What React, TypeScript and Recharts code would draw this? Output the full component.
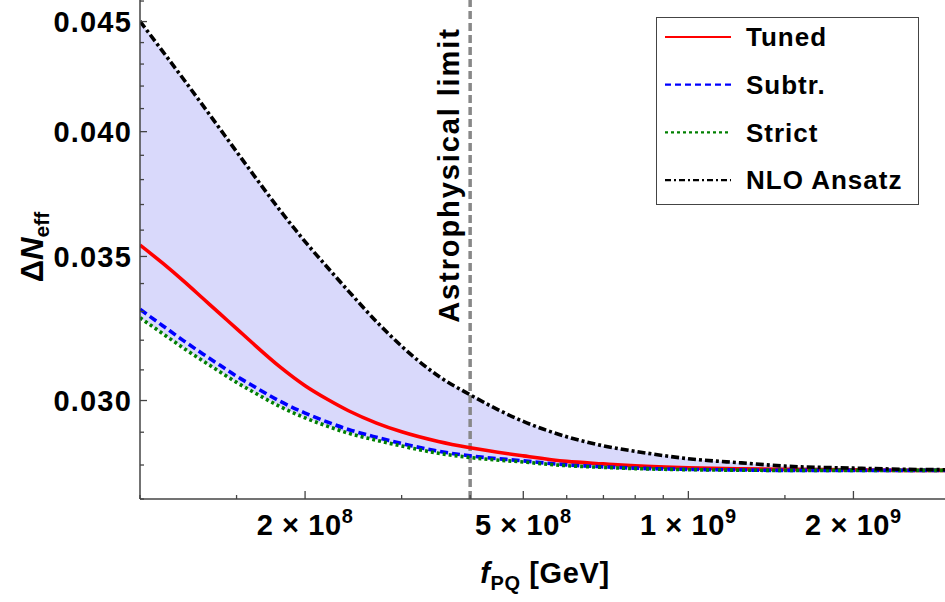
import { ComposedChart, Line, Area, XAxis, YAxis, ReferenceLine, Legend } from "recharts";

// f_PQ in GeV (log axis)
const fpq = [
    1e8, 1.1e8, 1.2e8, 1.3e8, 1.4e8, 1.5e8, 1.6e8, 1.8e8, 2e8, 2.2e8, 2.4e8, 2.7e8, 3e8, 3.5e8, 4e8,
    5e8, 6e8, 7e8, 8e8, 1e9, 1.25e9, 1.5e9, 2e9, 2.5e9, 3e9,
];

// Delta N_eff per scheme
const tuned = [
    0.035429, 0.034748, 0.034096, 0.033477, 0.032912, 0.0324, 0.031921, 0.0311, 0.03048, 0.030032, 0.029674, 0.029285, 0.029013, 0.028714, 0.028521,
    0.028275, 0.028109, 0.028034, 0.027974, 0.027914, 0.027884, 0.027869, 0.027854, 0.027839, 0.027839,
];
const subtr = [
    0.033075, 0.032501, 0.031986, 0.031542, 0.03115, 0.030791, 0.030493, 0.029977, 0.029601, 0.029313, 0.029085, 0.028843, 0.028652, 0.028416, 0.028275,
    0.028124, 0.028004, 0.027944, 0.027906, 0.027869, 0.027851, 0.027839, 0.027839, 0.027839, 0.027839,
];
const strict = [
    0.032778, 0.032227, 0.031733, 0.031308, 0.030931, 0.030588, 0.030301, 0.029808, 0.029449, 0.029182, 0.028969, 0.028751, 0.028575, 0.028355, 0.028225,
    0.028089, 0.02798, 0.027929, 0.027893, 0.02786, 0.027845, 0.027839, 0.027839, 0.027839, 0.027839,
];
const nlo = [
    0.045018, 0.043587, 0.042317, 0.041162, 0.040109, 0.039153, 0.038282, 0.036773, 0.03556, 0.034579, 0.033726, 0.032641, 0.031795, 0.030798, 0.030184,
    0.029336, 0.028859, 0.028579, 0.028413, 0.028189, 0.028063, 0.027968, 0.027906, 0.027872, 0.027858,
];

const astroLimit = 4e8;

// ticks
const xMajor = [2e8, 5e8, 1e9, 2e9];
const xMantissa = ["2", "5", "1", "2"];
const xExponent = ["8", "8", "9", "9"];
const xTicks = [1e8, 1.5e8, 2e8, 3e8, 4e8, 5e8, 6e8, 7e8, 8e8, 9e8, 1e9, 1.5e9, 2e9, 3e9];

const yMajor = [0.03, 0.035, 0.04, 0.045];
const yLabels = ["0.030", "0.035", "0.040", "0.045"];
const yTicks = [0.027, 0.028, 0.029, 0.03, 0.031, 0.032, 0.033, 0.034, 0.035, 0.036, 0.037, 0.038, 0.039, 0.04, 0.041, 0.042, 0.043, 0.044, 0.045, 0.046];

const legendNames = ["Tuned", "Subtr.", "Strict", "NLO Ansatz"];
const legendColors = ["#ff0000", "#0000ff", "#008000", "#000000"];
const legendDash = ["", "6 4", "3 3", "6 3 2 3"];

const rows = fpq.map((x, i) => ({
    x,
    tuned: tuned[i],
    subtr: subtr[i],
    strict: strict[i],
    nlo: nlo[i],
    band: [strict[i], nlo[i]],
}));

const FONT = "'Liberation Sans', Arial, Helvetica, sans-serif";
const AXIS = "#444";

const majorIndex = (list: number[], v: number) => list.findIndex((m) => Math.abs(m - v) / m < 1e-6);

function XTick(props: any) {
    const { x, y, payload } = props;
    const k = majorIndex(xMajor, payload.value);
    return (
        <g>
            <line x1={x} y1={y} x2={x} y2={y - (k >= 0 ? 8 : 4)} stroke={AXIS} strokeWidth={1.3} />
            {k >= 0 && (
                <text x={x} y={y + 36} textAnchor="middle" fontSize={29} fontWeight="bold" fontFamily={FONT} fill="#000" letterSpacing={0.6}>
                    {xMantissa[k]} × 10<tspan dy={-12} fontSize={20}>{xExponent[k]}</tspan>
                </text>
            )}
        </g>
    );
}

function TopTick(props: any) {
    const { x, y, payload } = props;
    const k = majorIndex(xMajor, payload.value);
    return <line x1={x} y1={y} x2={x} y2={y + (k >= 0 ? 8 : 4)} stroke={AXIS} strokeWidth={1.3} />;
}

function YTick(props: any) {
    const { x, y, payload } = props;
    const k = majorIndex(yMajor, payload.value);
    return (
        <g>
            <line x1={x} y1={y} x2={x + (k >= 0 ? 7 : 4)} y2={y} stroke={AXIS} strokeWidth={1.3} />
            {k >= 0 && (
                <text x={x - 8} y={y} dy="0.36em" textAnchor="end" fontSize={29} fontWeight="bold" fontFamily={FONT} fill="#000" letterSpacing={1.2}>
                    {yLabels[k]}
                </text>
            )}
        </g>
    );
}

function RightTick(props: any) {
    const { x, y, payload } = props;
    const k = majorIndex(yMajor, payload.value);
    return <line x1={x} y1={y} x2={x - (k >= 0 ? 7 : 4)} y2={y} stroke={AXIS} strokeWidth={1.3} />;
}

function LegendBox() {
    return (
        <div style={{ width: 263, height: 188, border: "1.5px solid #444", background: "#fff", boxSizing: "border-box" }}>
            <svg width={260} height={185}>
                {legendNames.map((name, i) => {
                    const cy = 19 + i * 47.7;
                    return (
                        <g key={name}>
                            <line x1={8} x2={74} y1={cy} y2={cy} stroke={legendColors[i]} strokeWidth={2.2} strokeDasharray={legendDash[i]} />
                            <text x={89} y={cy} dy="0.36em" fontSize={26} fontWeight="bold" fontFamily={FONT} fill="#000" letterSpacing={1}>
                                {name}
                            </text>
                        </g>
                    );
                })}
            </svg>
        </div>
    );
}

export default function App() {
    return (
        <div style={{ position: "fixed", left: 0, top: 0, width: 945, height: 602, overflow: "hidden", background: "#fff" }}>
            <div style={{ position: "absolute", left: 0, top: -1 }}>
                <ComposedChart width={960} height={603} data={rows} margin={{ top: 0, right: 10, bottom: 0, left: 0 }}>
                    <XAxis
                        dataKey="x"
                        type="number"
                        scale="log"
                        domain={[1e8, 3e9]}
                        allowDataOverflow
                        ticks={xTicks}
                        interval={0}
                        tickLine={false}
                        tickSize={0}
                        tickMargin={0}
                        height={103}
                        tick={XTick}
                        axisLine={{ stroke: AXIS, strokeWidth: 1.5 }}
                        label={(p: any) => {
                            const vb = p.viewBox;
                            return (
                                <text x={vb.x + vb.width / 2} y={vb.y + 84} textAnchor="middle" fontSize={29} fontWeight="bold" fontFamily={FONT} fill="#000" letterSpacing={0.6}>
                                    <tspan fontStyle="italic">f</tspan>
                                    <tspan fontSize={20} dy={7}>PQ</tspan>
                                    <tspan dy={-7}> [GeV]</tspan>
                                </text>
                            );
                        }}
                    />
                    <XAxis
                        xAxisId="top"
                        orientation="top"
                        type="number"
                        scale="log"
                        domain={[1e8, 3e9]}
                        allowDataOverflow
                        ticks={xTicks}
                        interval={0}
                        tickLine={false}
                        tickSize={0}
                        tickMargin={0}
                        height={0}
                        tick={TopTick}
                        axisLine={{ stroke: AXIS, strokeWidth: 1.5 }}
                    />
                    <YAxis
                        type="number"
                        scale="log"
                        domain={[0.027, 0.0461]}
                        allowDataOverflow
                        ticks={yTicks}
                        interval={0}
                        tickLine={false}
                        tickSize={0}
                        tickMargin={0}
                        width={140}
                        tick={YTick}
                        axisLine={{ stroke: AXIS, strokeWidth: 1.5 }}
                        label={(p: any) => {
                            const vb = p.viewBox;
                            const cx = 43;
                            const cy = vb.y + 248;
                            return (
                                <text x={cx} y={cy} transform={`rotate(-90, ${cx}, ${cy})`} textAnchor="middle" fontSize={31} fontWeight="bold" fontFamily={FONT} fill="#000">
                                    Δ<tspan fontStyle="italic">N</tspan>
                                    <tspan fontSize={21} dy={6}>eff</tspan>
                                </text>
                            );
                        }}
                    />
                    <YAxis
                        yAxisId="right"
                        orientation="right"
                        type="number"
                        scale="log"
                        domain={[0.027, 0.0461]}
                        allowDataOverflow
                        ticks={yTicks}
                        interval={0}
                        tickLine={false}
                        tickSize={0}
                        tickMargin={0}
                        width={0}
                        tick={RightTick}
                        axisLine={{ stroke: AXIS, strokeWidth: 1.5 }}
                    />
                    <Area dataKey="band" type="monotone" fill="#d9d9fb" fillOpacity={1} stroke="none" isAnimationActive={false} />
                    <ReferenceLine
                        x={astroLimit}
                        stroke="#888"
                        strokeWidth={3.5}
                        strokeDasharray="8 4"
                        label={(p: any) => {
                            const vb = p.viewBox;
                            const lx = vb.x - 11;
                            const ly = 176;
                            return (
                                <text x={lx} y={ly} transform={`rotate(-90, ${lx}, ${ly})`} textAnchor="middle" fontSize={29} fontWeight="bold" fontFamily={FONT} fill="#000" letterSpacing={1.9}>
                                    Astrophysical limit
                                </text>
                            );
                        }}
                    />
                    <Line dataKey="tuned" type="monotone" stroke="#ff0000" strokeWidth={3.6} dot={false} isAnimationActive={false} />
                    <Line dataKey="subtr" type="monotone" stroke="#0000ff" strokeWidth={3.6} strokeDasharray="8 4" dot={false} isAnimationActive={false} />
                    <Line dataKey="strict" type="monotone" stroke="#008000" strokeWidth={3.6} strokeDasharray="3 3" dot={false} isAnimationActive={false} />
                    <Line dataKey="nlo" type="monotone" stroke="#000000" strokeWidth={3.6} strokeDasharray="8 3 3 3" dot={false} isAnimationActive={false} />
                    <Legend
                        layout="vertical"
                        align="center"
                        verticalAlign="middle"
                        content={() => <LegendBox />}
                        wrapperStyle={{ left: 656, top: 18, width: 263, height: 188 }}
                    />
                </ComposedChart>
            </div>
        </div>
    );
}
